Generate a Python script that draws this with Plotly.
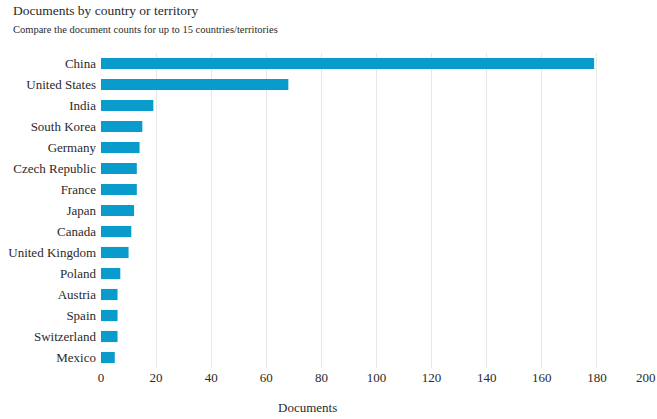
import plotly.graph_objects as go

countries = ["China", "United States", "India", "South Korea", "Germany", "Czech Republic",
             "France", "Japan", "Canada", "United Kingdom", "Poland", "Austria", "Spain",
             "Switzerland", "Mexico"]
documents = [179, 68, 19, 15, 14, 13, 13, 12, 11, 10, 7, 6, 6, 6, 5]
x_ticks = [0, 20, 40, 60, 80, 100, 120, 140, 160, 180, 200]

title_text = "Documents by country or territory"
subtitle_text = "Compare the document counts for up to 15 countries/territories"
x_title = "Documents"

FONT = "Liberation Serif"
TXT = "#2a2a2a"

L, R, T, B = 101, 5, 53, 51
W, H = 657, 419
PW, PH = W - L - R, H - T - B


def px_x(p):
    return (p - L) / PW


def px_y(p):
    return (H - B - p) / PH


# last tick label is nudged inward so it stays inside the page (as in the reference)
tick_text = [str(v) for v in x_ticks[:-1]] + [""]

fig = go.Figure(go.Bar(
    x=documents, y=countries, orientation="h",
    marker=dict(color="#0a9bcd", line=dict(width=0)),
))

fig.update_layout(
    width=W, height=H,
    margin=dict(l=L, r=R, t=T, b=B, autoexpand=False),
    paper_bgcolor="white", plot_bgcolor="white",
    font=dict(family=FONT, size=12, color=TXT),
    bargap=0.47,
    showlegend=False,
    xaxis=dict(range=[0, 200], tickvals=x_ticks, ticktext=tick_text, showgrid=True,
               gridcolor="#e8e8e8", gridwidth=1, zeroline=False, showline=False, ticks="",
               automargin=False, tickfont=dict(size=13, family=FONT, color=TXT)),
    yaxis=dict(categoryorder="array", categoryarray=countries, autorange="reversed",
               showgrid=False, zeroline=False, showline=False, ticks="", automargin=False,
               ticklabelstandoff=4,
               tickfont=dict(size=13, family=FONT, color=TXT)),
    annotations=[
        dict(text=title_text, xref="paper", yref="paper", x=px_x(11), y=px_y(10),
             xanchor="left", yanchor="middle", showarrow=False,
             font=dict(size=13.5, family=FONT, color=TXT)),
        dict(text=subtitle_text, xref="paper", yref="paper", x=px_x(11), y=px_y(29),
             xanchor="left", yanchor="middle", showarrow=False,
             font=dict(size=10.5, family=FONT, color=TXT)),
        dict(text=x_title, xref="paper", yref="paper", x=px_x(307), y=px_y(407),
             xanchor="center", yanchor="middle", showarrow=False,
             font=dict(size=13, family=FONT, color=TXT)),
        dict(text=str(x_ticks[-1]), xref="x", yref="paper", x=x_ticks[-1], y=px_y(378),
             xanchor="right", yanchor="middle", showarrow=False, xshift=R + 1,
             font=dict(size=13, family=FONT, color=TXT)),
    ],
)

fig.write_html("out.html", config={"displayModeBar": False},
               post_script="document.body.style.margin='0';document.body.style.overflow='hidden';")
